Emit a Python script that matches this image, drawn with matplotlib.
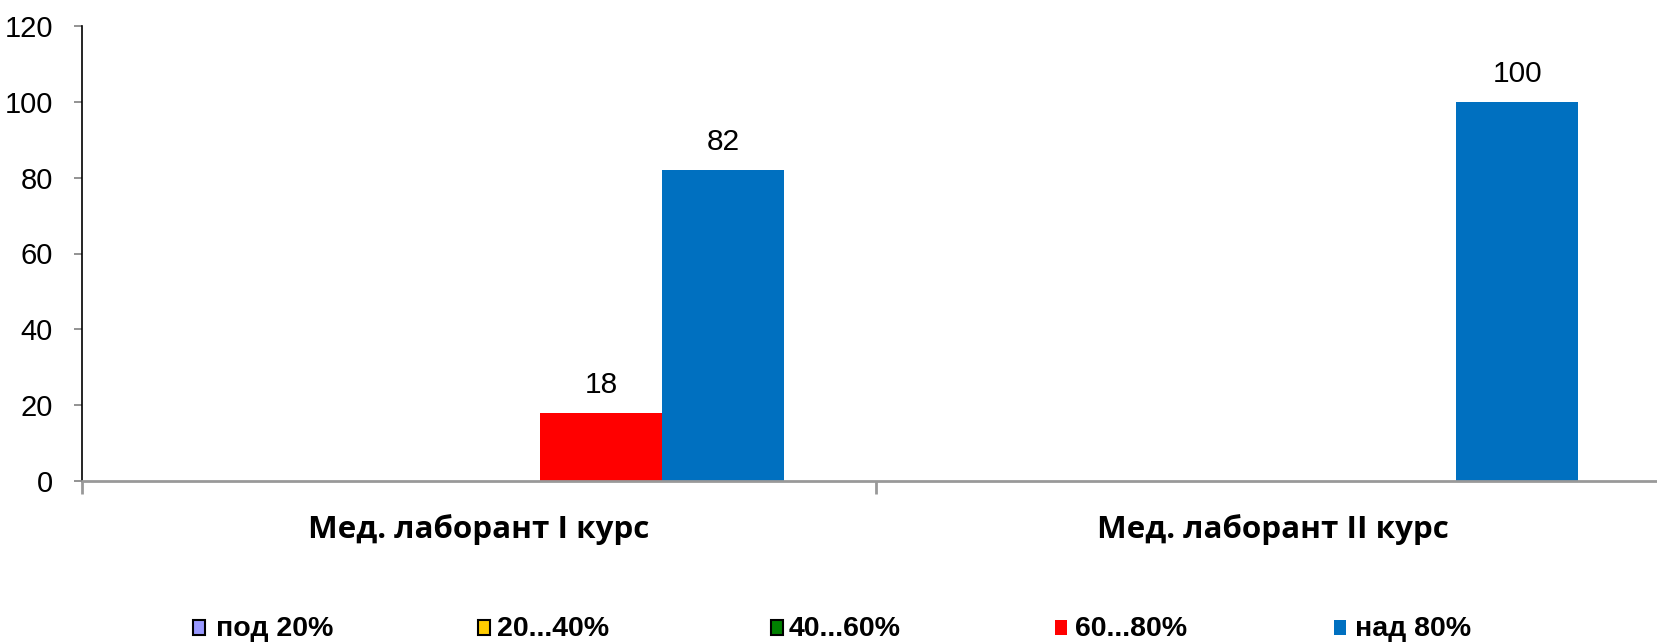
import matplotlib
matplotlib.use("Agg")
import matplotlib.pyplot as plt
from matplotlib.patches import Rectangle
import numpy as np

categories = ['Мед. лаборант I курс', 'Мед. лаборант II курс']
series_labels = ['под 20%', '20...40%', '40...60%', '60...80%', 'над 80%']
pod20 = [0, 0]
s20_40 = [0, 0]
s40_60 = [0, 0]
s60_80 = [18, 0]
nad80 = [82, 100]
series_values = [pod20, s20_40, s40_60, s60_80, nad80]
series_colors = ['#9999FF', '#FFCC00', '#008000', '#FF0000', '#0070C0']
legend_edges = ['black', 'black', 'black', 'none', 'none']
yticks = [0, 20, 40, 60, 80, 100, 120]

W, H = 1657, 642
fig = plt.figure(figsize=(W / 100, H / 100), dpi=100)
ax = fig.add_axes([82 / W, 1 - 481 / H, (1670 - 82) / W, 455 / H])

x = np.arange(len(categories))
n = len(series_values)
bw = 1.0 / (n + 1.5)
for i, (vals, col) in enumerate(zip(series_values, series_colors)):
    pos = x + (i - (n - 1) / 2) * bw
    ax.bar(pos, vals, width=bw, color=col, linewidth=0, zorder=2)
    for p, v in zip(pos, vals):
        if v:
            ax.annotate(f"{v}", (p, v), xytext=(0, 10), textcoords='offset points',
                        ha='center', va='bottom', fontsize=21.5,
                        family=['Liberation Sans', 'DejaVu Sans'], color='black')

ax.set_xlim(-0.5, len(categories) - 0.5)
ax.set_ylim(0, 120)
ax.set_yticks(yticks)
ax.set_yticklabels([str(t) for t in yticks], fontsize=21,
                   family=['Liberation Sans', 'DejaVu Sans'])
ax.tick_params(axis='y', length=6, width=1.2, color='#808080', pad=15)

ax.set_xticks(x)
ax.set_xticklabels(categories, fontsize=22.6, fontweight='bold',
                   family=['Open Sans', 'DejaVu Sans'])
ax.tick_params(axis='x', which='major', length=0, pad=24)
ax.set_xticks(np.arange(len(categories) + 1) - 0.5, minor=True)
ax.tick_params(axis='x', which='minor', length=9, width=2, color='#999999')

for s in ['top', 'right']:
    ax.spines[s].set_visible(False)
ax.spines['left'].set_color('#000000')
ax.spines['left'].set_linewidth(1.2)
ax.spines['bottom'].set_color('#999999')
ax.spines['bottom'].set_linewidth(2)
ax.spines['bottom'].set_zorder(3)

# legend
marker_x = [199, 484, 777, 1061, 1340]
text_x = [216, 497, 789, 1075, 1355]
ly = 626
for mx, tx, lab, col, ec in zip(marker_x, text_x, series_labels, series_colors, legend_edges):
    fig.add_artist(Rectangle(((mx - 6) / W, 1 - (ly + 9) / H), 12 / W, 15 / H,
                             transform=fig.transFigure, facecolor=col,
                             edgecolor=ec, linewidth=1.5))
    fig.text(tx / W, 1 - ly / H, lab, ha='left', va='center_baseline', fontsize=20.5,
             fontweight='bold', family=['Liberation Sans', 'DejaVu Sans'])

fig.savefig('out.png', dpi=100)
